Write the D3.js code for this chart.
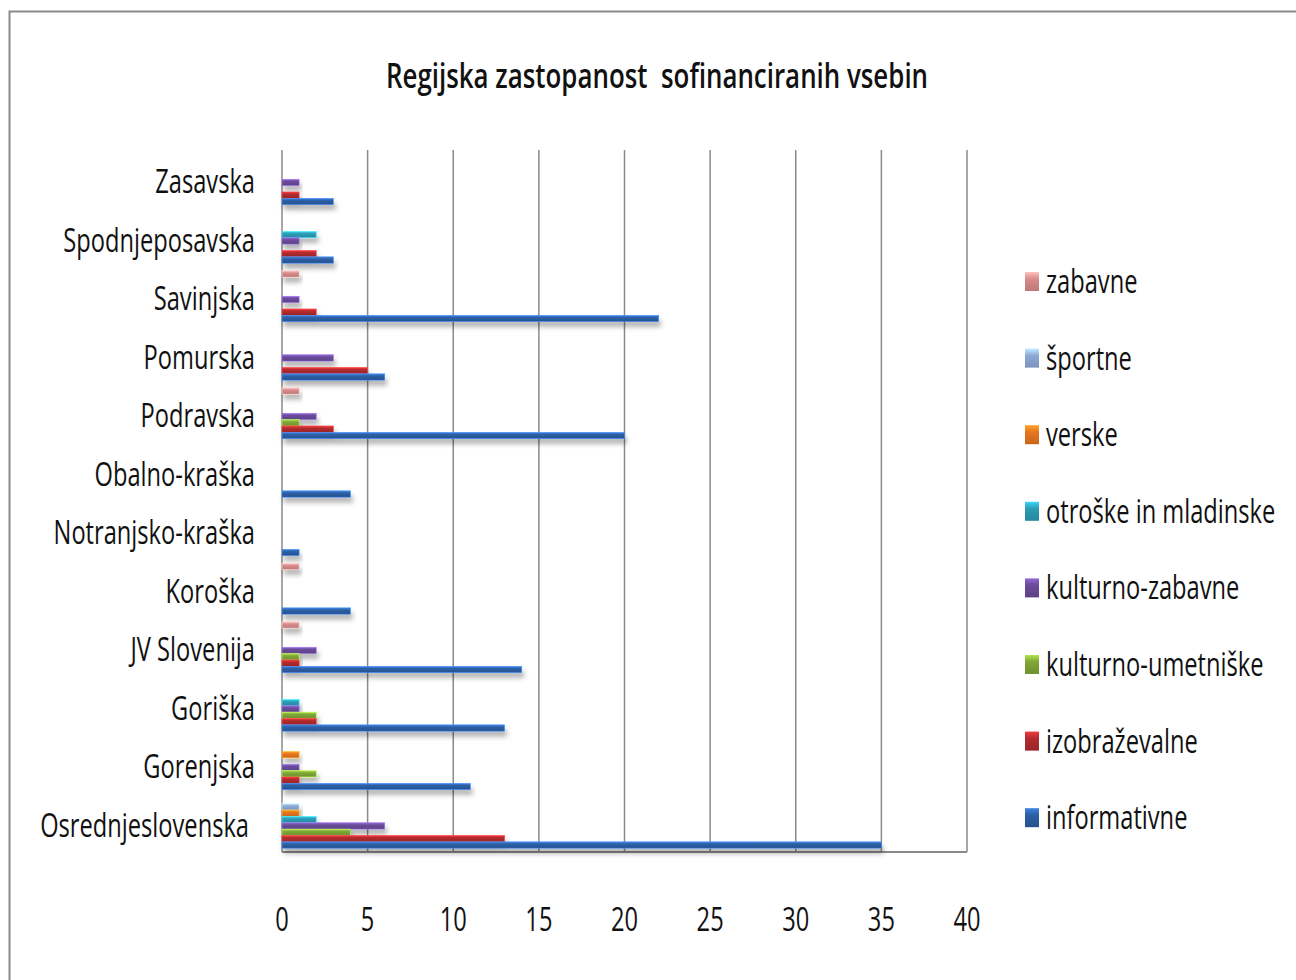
<!DOCTYPE html>
<html>
<head>
<meta charset="utf-8">
<script src="https://cdn.jsdelivr.net/npm/d3@7"></script>
<style>
  body { margin: 0; background: #fff; }
  text { font-family: "Open Sans", "Noto Sans", sans-serif; fill: #111; white-space: pre; }
</style>
</head>
<body>
<script>
// Regions, top to bottom as shown
const regions = ["Zasavska", "Spodnjeposavska", "Savinjska", "Pomurska", "Podravska",
  "Obalno-kraška", "Notranjsko-kraška", "Koroška", "JV Slovenija", "Goriška",
  "Gorenjska", "Osrednjeslovenska"];

// Series values, same order as regions
const informativne      = [3, 3, 22, 6, 20, 4, 1, 4, 14, 13, 11, 35];
const izobrazevalne     = [1, 2, 2, 5, 3, 0, 0, 0, 1, 2, 1, 13];
const kulturnoUmetniske = [0, 0, 0, 0, 1, 0, 0, 0, 1, 2, 2, 4];
const kulturnoZabavne   = [1, 1, 1, 3, 2, 0, 0, 0, 2, 1, 1, 6];
const otroske           = [0, 2, 0, 0, 0, 0, 0, 0, 0, 1, 0, 2];
const verske            = [0, 0, 0, 0, 0, 0, 0, 0, 0, 0, 1, 1];
const sportne           = [0, 0, 0, 0, 0, 0, 0, 0, 0, 0, 0, 1];
const zabavne           = [0, 0, 1, 0, 1, 0, 0, 1, 1, 0, 0, 0];

const seriesNames = ["zabavne", "športne", "verske", "otroške in mladinske",
  "kulturno-zabavne", "kulturno-umetniške", "izobraževalne", "informativne"];
const seriesValues = [zabavne, sportne, verske, otroske,
  kulturnoZabavne, kulturnoUmetniske, izobrazevalne, informativne];
const seriesColors = ["#d98c8b", "#8eaad8", "#e8771f", "#2c9db6",
  "#6a4c9b", "#7fa737", "#b22b2e", "#2d5fa5"];

const xTicks = [0, 5, 10, 15, 20, 25, 30, 35, 40];
const title = "Regijska zastopanost  sofinanciranih vsebin";

const width = 1296, height = 980;
const plot = { left: 282, right: 967, top: 150, bottom: 852 };
const squeeze = 0.74;

const svg = d3.select("body").append("svg")
  .attr("width", width).attr("height", height);

const defs = svg.append("defs");
const shadow = defs.append("filter").attr("id", "shadow")
  .attr("x", "-10%").attr("y", "-100%").attr("width", "130%").attr("height", "400%");
shadow.append("feDropShadow").attr("dx", 2).attr("dy", 5)
  .attr("stdDeviation", 2.5).attr("flood-color", "#000").attr("flood-opacity", 0.3);

seriesColors.forEach((c, i) => {
  const g = defs.append("linearGradient").attr("id", "grad" + i)
    .attr("x1", 0).attr("y1", 0).attr("x2", 0).attr("y2", 1);
  g.append("stop").attr("offset", "0%").attr("stop-color", d3.color(c).brighter(0.9));
  g.append("stop").attr("offset", "35%").attr("stop-color", c);
  g.append("stop").attr("offset", "100%").attr("stop-color", d3.color(c).darker(0.4));
});

// frame
svg.append("rect")
  .attr("x", 9.5).attr("y", 11.5).attr("width", 1300).attr("height", 1000)
  .attr("fill", "#fff").attr("stroke", "#8a8a8a").attr("stroke-width", 2);

// squeezed text helper (narrow font look)
function label(parent, x, y, txt, size, anchor, weight) {
  return parent.append("text")
    .attr("transform", `translate(${x},${y}) scale(${squeeze},1)`)
    .attr("text-anchor", anchor)
    .attr("font-size", size)
    .attr("font-weight", weight || 400)
    .text(txt);
}

label(svg, 657, 88, title, 35, "middle", 600);

const x = d3.scaleLinear().domain([0, 40]).range([plot.left, plot.right]);
const y0 = d3.scaleBand().domain(regions).range([plot.top, plot.bottom])
  .paddingInner(0.13).paddingOuter(0.065);
const y1 = d3.scaleBand().domain(seriesNames).range([0, y0.bandwidth()]);

// gridlines
svg.append("g").selectAll("line").data(xTicks).join("line")
  .attr("x1", d => x(d)).attr("x2", d => x(d))
  .attr("y1", plot.top).attr("y2", plot.bottom)
  .attr("stroke", "#8a8a8a").attr("stroke-width", 1.5);

svg.append("line")
  .attr("x1", plot.left).attr("x2", plot.right)
  .attr("y1", plot.bottom).attr("y2", plot.bottom)
  .attr("stroke", "#8a8a8a").attr("stroke-width", 2);

// bars
const groups = svg.append("g").selectAll("g").data(regions).join("g")
  .attr("transform", d => `translate(0,${y0(d)})`);

groups.selectAll("rect")
  .data((r, ri) => seriesNames.map((s, si) => ({ s, si, v: seriesValues[si][ri] })))
  .join("rect")
  .filter(d => d.v > 0)
  .attr("x", x(0))
  .attr("y", d => y1(d.s))
  .attr("width", d => x(d.v) - x(0))
  .attr("height", y1.bandwidth())
  .attr("fill", d => `url(#grad${d.si})`)
  .attr("stroke", d => d3.color(seriesColors[d.si]).brighter(1.2))
  .attr("stroke-width", 0.6)
  .attr("filter", "url(#shadow)");

// category labels
const yl = svg.append("g");
regions.forEach(r => {
  label(yl, r === "Osrednjeslovenska" ? 249 : 255, y0(r) + y0.bandwidth() / 2 + 14, r, 32, "end");
});

// x tick labels
const xl = svg.append("g");
xTicks.forEach(t => label(xl, x(t), 931, t, 32, "middle"));

// legend
const legend = svg.append("g");
seriesNames.forEach((s, i) => {
  const by = 293 + i * 76.6;
  legend.append("rect")
    .attr("x", 1025).attr("y", by - 21).attr("width", 14).attr("height", 19)
    .attr("fill", `url(#grad${i})`);
  label(legend, 1046, by, s, 32, "start");
});
</script>
</body>
</html>
